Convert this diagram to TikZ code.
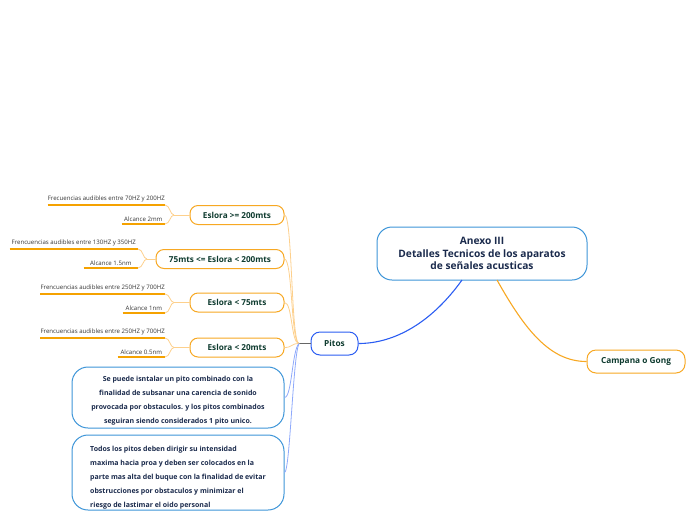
\documentclass[tikz,border=0pt]{standalone}
\usepackage{fontspec}
\setmainfont{Open Sans}
\usetikzlibrary{calc}
\definecolor{cblue}{HTML}{3D95D8}
\definecolor{pblue}{HTML}{2B5DF2}
\definecolor{orng}{HTML}{F7A823}
\definecolor{lorng}{HTML}{FDD08C}
\definecolor{lblue}{HTML}{8EA9FB}
\definecolor{navy}{HTML}{1A2A4C}
\definecolor{dgreen}{HTML}{0E3B2F}
\definecolor{leafline}{HTML}{F5A200}
\definecolor{leaftext}{HTML}{333333}
\begin{document}
\begin{tikzpicture}[x=1pt,y=-1pt,
  rbox/.style={draw, line width=1pt, fill=white, inner sep=0pt, align=center},
  central/.style={rbox, draw=cblue, rounded corners=15pt, minimum width=210pt, minimum height=53pt,
     text=navy, font=\bfseries\fontsize{10.2}{12.6}\selectfont},
  pitosbox/.style={rbox, draw=pblue, rounded corners=9pt, minimum width=47pt, minimum height=23pt,
     text=dgreen, font=\bfseries\fontsize{8.3}{9}\selectfont},
  gongbox/.style={rbox, draw=orng, rounded corners=9pt, minimum width=98pt, minimum height=23pt,
     text=dgreen, font=\bfseries\fontsize{8.3}{9}\selectfont},
  esl/.style={rbox, draw=orng, rounded corners=8pt, minimum height=19pt,
     text=dgreen, font=\bfseries\fontsize{8.2}{9}\selectfont},
  note/.style={rbox, draw=cblue, rounded corners=16pt, minimum width=212pt,
     text=navy, font=\bfseries\fontsize{7}{14}\selectfont},
  leaf/.style={inner xsep=0pt, inner ysep=2.5pt, anchor=south east, text=leaftext,
     font=\fontsize{6.1}{7}\selectfont},
  uline/.style={draw=leafline, line width=1.4pt},
  lcon/.style={draw=lorng, line width=0.8pt},
  bcon/.style={draw=lblue, line width=0.8pt},
]
\useasboundingbox (0,0) rectangle (696,520);

% main nodes
\node[central] (c) at (482,253.5) {Anexo III\\Detalles Tecnicos de los aparatos\\de señales acusticas};
\node[pitosbox] (p) at (334.5,343.5) {Pitos};
\node[gongbox] (g) at (636,361.5) {Campana o Gong};

\node[esl, minimum width=94pt] (e1) at (237,215) {Eslora >= 200mts};
\node[esl, minimum width=128pt] (e2) at (220,259) {75mts <= Eslora < 200mts};
\node[esl, minimum width=94pt] (e3) at (237,302.5) {Eslora < 75mts};
\node[esl, minimum width=94pt] (e4) at (237,347.5) {Eslora < 20mts};

\node[note, minimum height=61pt] (n1) at (178,397.5) {\rule{0pt}{11pt}Se puede isntalar un pito combinado con la\\finalidad de subsanar una carencia de sonido\\provocada por obstaculos. y los pitos combinados\\seguiran siendo considerados 1 pito unico.};
\node[note, minimum height=75pt, align=left] (n2) at (178,472.5) {\rule{0pt}{15pt}Todos los pitos deben dirigir su intensidad\\maxima hacia proa y deben ser colocados en la\\parte mas alta del buque con la finalidad de evitar\\obstrucciones por obstaculos y minimizar el\\riesgo de lastimar el oido personal};

% leaves
\node[leaf, minimum width=115pt] (f1) at (165,205) {Frecuencias audibles entre 70HZ y 200HZ};
\node[leaf, minimum width=43pt] (a1) at (165,224) {Alcance 2mm};
\node[leaf, minimum width=128pt] (f2) at (138,249) {Frencuencias audibles entre 130HZ y 350HZ};
\node[leaf, minimum width=54pt] (a2) at (138,268) {Alcance 1.5nm};
\node[leaf, minimum width=121pt] (f3) at (165,294) {Frencuencias audibles entre 250HZ y 700HZ};
\node[leaf, minimum width=42pt] (a3) at (165,313) {Alcance 1nm};
\node[leaf, minimum width=121pt] (f4) at (165,338) {Frencuencias audibles entre 250HZ y 700HZ};
\node[leaf, minimum width=47pt] (a4) at (165,357) {Alcance 0.5nm};

\foreach \n in {f1,a1,f2,a2,f3,a3,f4,a4}{\draw[uline] (\n.south west) -- (\n.south east);}

% join points
\coordinate (j1) at (174,215);
\coordinate (j2) at (147,259);
\coordinate (j3) at (174,302.5);
\coordinate (j4) at (174,347.5);
\coordinate (hub) at (299,343.5);
\coordinate (cp) at (462,280);
\coordinate (cg) at (497,280);

\foreach \f/\a/\j/\e in {f1/a1/j1/e1, f2/a2/j2/e2, f3/a3/j3/e3, f4/a4/j4/e4}{
  \draw[lcon] (\f.south east) .. controls ($(\f.south east)+(5,0)$) and ($(\j)+(-4,0)$) .. (\j);
  \draw[lcon] (\a.south east) .. controls ($(\a.south east)+(5,0)$) and ($(\j)+(-4,0)$) .. (\j);
  \draw[lcon] (\j) -- (\e.west);
}

% pitos branches
\draw[draw=gray!80!black, line width=1.3pt] (p.west) -- (hub);
\foreach \e in {e1,e2,e3,e4}{
  \draw[lcon] (hub) .. controls (291,343.5) and ($(\e.east)+(8,0)$) .. (\e.east);
}
\draw[bcon] (hub) .. controls (292,350) and (292,397.5) .. (n1.east);
\draw[bcon] (hub) .. controls (293,355) and (290,472.5) .. (n2.east);

% main connectors
\draw[draw=pblue, line width=1.1pt] (cp) .. controls (432,322) and (395,343.5) .. (p.east);
\draw[draw=orng, line width=1.1pt] (cg) .. controls (525,330) and (550,361.5) .. (g.west);
\end{tikzpicture}
\end{document}
